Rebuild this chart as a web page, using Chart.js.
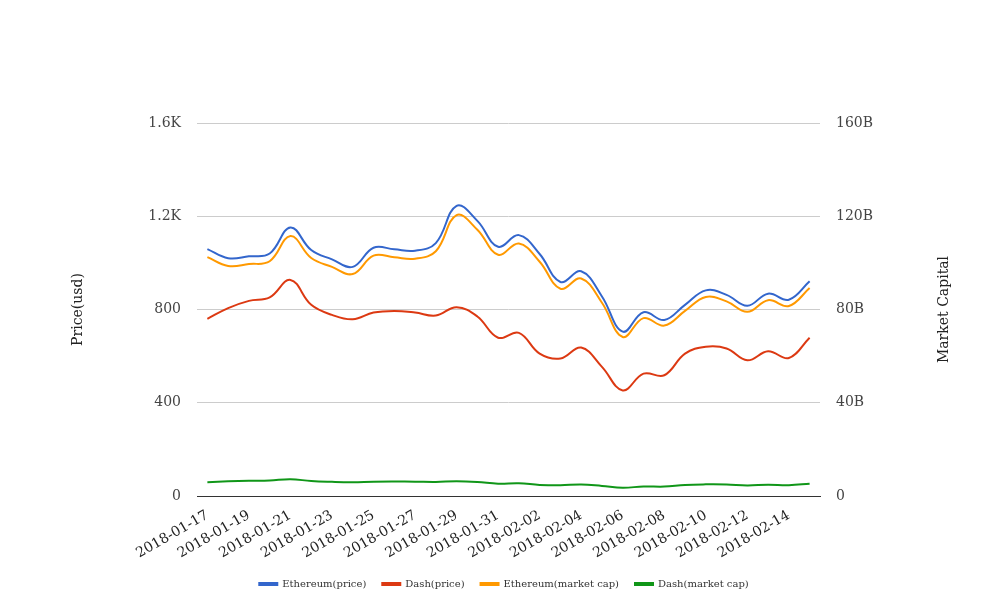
<!DOCTYPE html>
<html>
<head>
<meta charset="utf-8">
<script src="https://cdn.jsdelivr.net/npm/chart.js@4"></script>
<style>
  html, body { margin: 0; padding: 0; background: #fff; }
  #wrap { width: 1008px; height: 616px; }
</style>
</head>
<body>
<div id="wrap"><canvas id="chart" width="1008" height="616"></canvas></div>
<script>
// dates, one per day
const dates = [
  "2018-01-17", "2018-01-18", "2018-01-19", "2018-01-20", "2018-01-21",
  "2018-01-22", "2018-01-23", "2018-01-24", "2018-01-25", "2018-01-26",
  "2018-01-27", "2018-01-28", "2018-01-29", "2018-01-30", "2018-01-31",
  "2018-02-01", "2018-02-02", "2018-02-03", "2018-02-04", "2018-02-05",
  "2018-02-06", "2018-02-07", "2018-02-08", "2018-02-09", "2018-02-10",
  "2018-02-11", "2018-02-12", "2018-02-13", "2018-02-14", "2018-02-15"
];

// prices in usd (left axis)
const ethPrice = [1059, 1020, 1028, 1040, 1152, 1055, 1015, 983, 1065, 1058,
  1052, 1085, 1245, 1180, 1069, 1119, 1038, 918, 964, 856,
  705, 788, 755, 820, 882, 863, 816, 868, 842, 921];
const dashPrice = [760, 806, 837, 852, 927, 820, 777, 758, 787, 794,
  787, 774, 810, 770, 679, 700, 611, 590, 637, 554,
  453, 525, 518, 611, 640, 633, 582, 621, 592, 679];

// market caps in billions (right axis)
const ethCap = [102.5, 98.7, 99.5, 100.7, 111.5, 102.1, 98.3, 95.2, 103.1, 102.4,
  101.8, 105.0, 120.5, 114.2, 103.5, 108.3, 100.5, 88.9, 93.3, 82.9,
  68.2, 76.3, 73.1, 79.4, 85.4, 83.5, 79.0, 84.0, 81.5, 89.2];
const dashCap = [5.93, 6.29, 6.53, 6.65, 7.23, 6.40, 6.06, 5.91, 6.14, 6.19,
  6.14, 6.04, 6.32, 6.01, 5.30, 5.46, 4.77, 4.60, 4.97, 4.32,
  3.53, 4.10, 4.04, 4.77, 4.99, 4.94, 4.54, 4.84, 4.62, 5.30];

const leftTicks = { 0: "0", 400: "400", 800: "800", 1200: "1.2K", 1600: "1.6K" };
const rightTicks = { 0: "0", 40: "40B", 80: "80B", 120: "120B", 160: "160B" };

const serif = "'DejaVu Serif', serif";

const line = (label, data, color, axis) => ({
  label: label,
  data: data,
  yAxisID: axis,
  borderColor: color,
  backgroundColor: color,
  borderWidth: 2,
  pointRadius: 0,
  tension: 0.4,
  fill: false
});

// axis titles, both read bottom to top
const axisTitles = {
  id: "axisTitles",
  afterDraw(chart) {
    const ctx = chart.ctx;
    const mid = (chart.chartArea.top + chart.chartArea.bottom) / 2;
    ctx.save();
    ctx.fillStyle = "#222";
    ctx.font = "14px " + serif;
    ctx.textAlign = "center";
    ctx.textBaseline = "middle";
    [["Price(usd)", 78], ["Market Capital", 944]].forEach(([t, x]) => {
      ctx.save();
      ctx.translate(x, mid);
      ctx.rotate(-Math.PI / 2);
      ctx.fillText(t, 0, 0);
      ctx.restore();
    });
    ctx.restore();
  }
};

new Chart(document.getElementById("chart"), {
  type: "line",
  plugins: [axisTitles],
  data: {
    labels: dates,
    datasets: [
      line("Ethereum(price)", ethPrice, "#3366cc", "y"),
      line("Dash(price)", dashPrice, "#dc3912", "y"),
      line("Ethereum(market cap)", ethCap, "#ff9900", "y1"),
      line("Dash(market cap)", dashCap, "#109618", "y1")
    ]
  },
  options: {
    responsive: false,
    animation: false,
    layout: { padding: { top: 123, left: 0, right: 0, bottom: 17 } },
    plugins: {
      tooltip: { enabled: false },
      legend: {
        position: "bottom",
        labels: {
          font: { family: serif, size: 10 },
          color: "#333",
          boxWidth: 18,
          boxHeight: 2,
          padding: 16
        }
      }
    },
    scales: {
      x: {
        offset: true,
        grid: { display: false },
        border: { display: true, color: "#333", width: 1 },
        ticks: {
          autoSkip: false,
          maxRotation: 30,
          minRotation: 30,
          color: "#222",
          font: { family: serif, size: 14 },
          callback: (v, i) => (i % 2 === 0 ? dates[i] : "")
        },
        afterFit: (s) => { s.height = 67; }
      },
      y: {
        position: "left",
        min: 0,
        max: 1600,
        grid: { color: "#cccccc", drawTicks: false },
        border: { display: false },
        ticks: {
          stepSize: 400,
          padding: 16,
          color: "#444",
          font: { family: serif, size: 14 },
          callback: (v) => leftTicks[v]
        },
        afterFit: (s) => { s.width = 197; }
      },
      y1: {
        position: "right",
        min: 0,
        max: 160,
        grid: { display: false, drawTicks: false },
        border: { display: false },
        ticks: {
          stepSize: 40,
          padding: 16,
          color: "#444",
          font: { family: serif, size: 14 },
          callback: (v) => rightTicks[v]
        },
        afterFit: (s) => { s.width = 188; }
      }
    }
  }
});
</script>
</body>
</html>
